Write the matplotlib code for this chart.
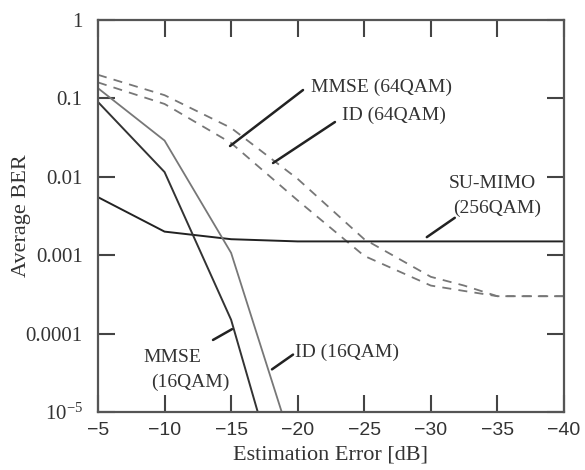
import matplotlib
matplotlib.use("Agg")
import matplotlib.pyplot as plt

# estimation error [dB]
x_64 = [-5, -10, -15, -20, -25, -30, -32.5, -35, -40]
mmse_64qam = [0.20, 0.11, 0.042, 0.0094, 0.0016, 0.00053, 0.00041, 0.00030, 0.00030]
id_64qam = [0.16, 0.085, 0.027, 0.0050, 0.00098, 0.00041, 0.00035, 0.00030, 0.00030]

x_su = [-5, -10, -15, -20, -25, -30, -35, -40]
su_mimo = [0.0055, 0.0020, 0.0016, 0.0015, 0.0015, 0.0015, 0.0015, 0.0015]

x_mmse16 = [-5, -10, -15, -17.0]
mmse_16qam = [0.09, 0.0115, 0.00015, 0.00001]
x_id16 = [-5, -10, -15, -18.8]
id_16qam = [0.135, 0.029, 0.00107, 0.00001]

x_ticks = [-5, -10, -15, -20, -25, -30, -35, -40]
y_ticks = [1e-5, 1e-4, 1e-3, 1e-2, 1e-1, 1]
y_labels = [r'$\mathregular{10^{-5}}$', '0.0001', '0.001', '0.01', '0.1', '1']

plt.rcParams['font.family'] = 'Liberation Serif'
plt.rcParams['mathtext.fontset'] = 'stix'

fig = plt.figure(figsize=(5.85, 4.70), dpi=100)
ax = fig.add_axes([0.1675, 0.1234, 0.7965, 0.834])

dark = '#222222'
gray = '#777777'
ax.plot(x_64, mmse_64qam, color=gray, lw=1.3, ls=(0, (5, 4)))
ax.plot(x_64, id_64qam, color=gray, lw=1.3, ls=(0, (5, 4)))
ax.plot(x_su, su_mimo, color=dark, lw=1.4)
ax.plot(x_mmse16, mmse_16qam, color='#333333', lw=1.4)
ax.plot(x_id16, id_16qam, color=gray, lw=1.3)

ax.set_yscale('log')
ax.set_xlim(-5, -40)
ax.set_ylim(1e-5, 1)
ax.set_xticks(x_ticks)
ax.set_xticklabels([f'\u2212{abs(v)}' for v in x_ticks], fontfamily='Liberation Sans', fontsize=14)
ax.set_yticks(y_ticks)
ax.set_yticklabels(y_labels, fontsize=15)
ax.minorticks_off()
ax.tick_params(direction='in', length=12, width=1.5, colors='#444444',
               top=True, right=True, labelcolor='#333333')
ax.tick_params(axis='y', pad=11)
ax.tick_params(axis='x', pad=7)
for s in ax.spines.values():
    s.set_linewidth(1.6)
    s.set_color('#555555')

ax.set_ylabel('Average BER', fontsize=16, color='#333333', va='center')
ax.yaxis.set_label_coords(-0.165, 0.5)
ax.set_xlabel('Estimation Error [dB]', fontsize=16, color='#333333', labelpad=5)

# pointer lines
arrow = dict(arrowstyle='-', color='#222222', lw=1.8, shrinkA=0, shrinkB=0)
ax.annotate('', xy=(-14.92, 0.0247), xytext=(-20.4, 0.128), arrowprops=arrow)
ax.annotate('', xy=(-18.15, 0.015), xytext=(-22.8, 0.05), arrowprops=arrow)
ax.annotate('', xy=(-29.7, 0.0017), xytext=(-31.8, 0.003), arrowprops=arrow)
ax.annotate('', xy=(-13.64, 8.3e-5), xytext=(-15.07, 1.14e-4), arrowprops=arrow)
ax.annotate('', xy=(-18.07, 3.5e-5), xytext=(-19.65, 5.4e-5), arrowprops=arrow)

tc = '#333333'
fs = 14
ax.text(-21.0, 0.14, 'MMSE (64QAM)', ha='left', va='center', fontsize=fs, color=tc)
ax.text(-23.33, 0.061, 'ID (64QAM)', ha='left', va='center', fontsize=fs, color=tc)
ax.text(-34.6, 0.0083, 'SU-MIMO', ha='center', va='center', fontsize=fs, color=tc)
ax.text(-35.0, 0.004, '(256QAM)', ha='center', va='center', fontsize=fs, color=tc)
ax.text(-10.6, 5.0e-5, 'MMSE', ha='center', va='center', fontsize=fs, color=tc)
ax.text(-11.9, 2.4e-5, '(16QAM)', ha='center', va='center', fontsize=fs, color=tc)
ax.text(-19.8, 5.8e-5, 'ID (16QAM)', ha='left', va='center', fontsize=fs, color=tc)

fig.savefig('out.png', dpi=100)
